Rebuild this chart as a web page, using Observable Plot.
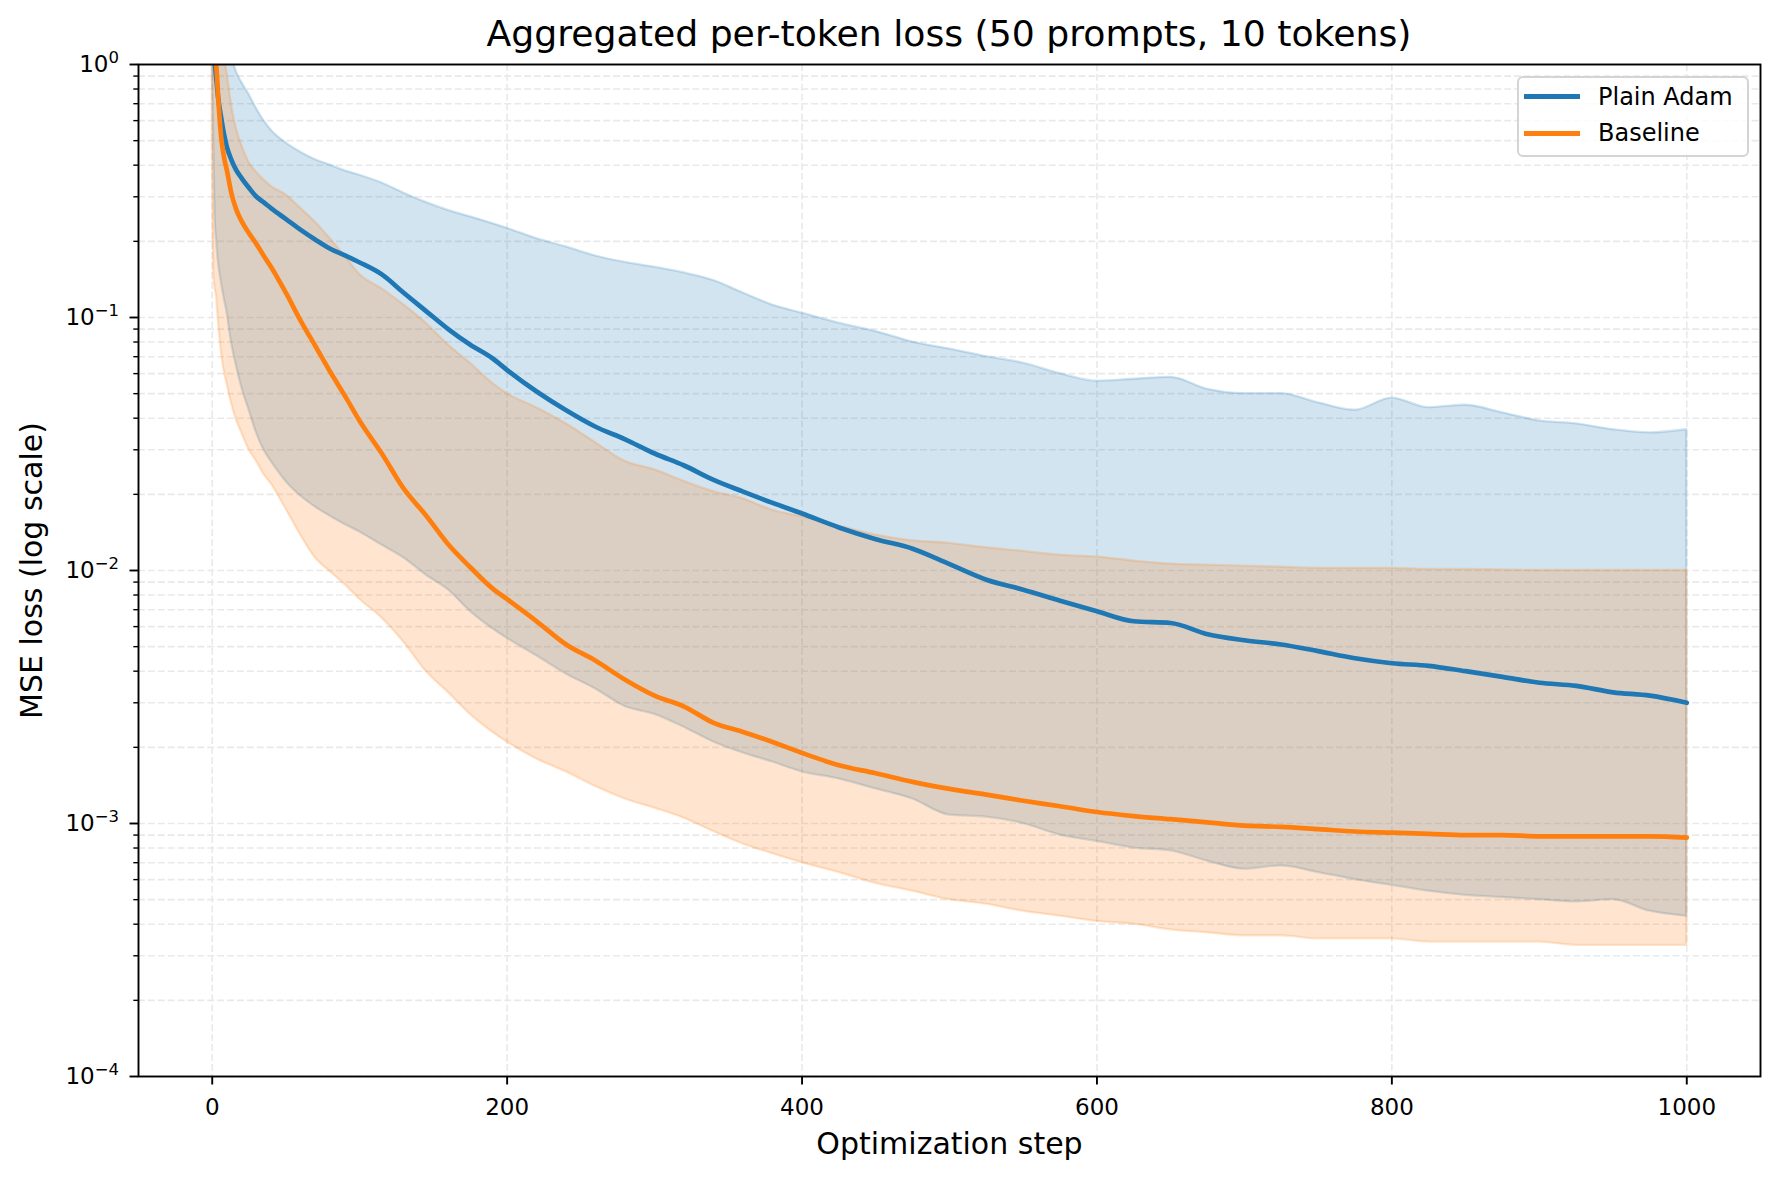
<!DOCTYPE html>
<html><head><meta charset="utf-8">
<script src="https://cdn.jsdelivr.net/npm/d3@7"></script>
<script src="https://cdn.jsdelivr.net/npm/@observablehq/plot@0.6"></script>
<style>
body{margin:0;background:#fff;font-family:"DejaVu Sans",sans-serif;}
#wrap{position:relative;width:1779px;height:1180px;overflow:hidden;background:#fff}
#title{position:absolute;left:138px;width:1622px;top:16px;text-align:center;font-size:36.2px;line-height:36px;color:#000;white-space:nowrap}
#legend{position:absolute;left:1517px;top:76px;width:228px;height:77px;border:2px solid #d4d4d4;border-radius:6px;background:rgba(255,255,255,0.8)}
.sw{position:absolute;left:5px;width:56px;height:5px}
.lt{position:absolute;left:79px;font-size:24px;line-height:24px;color:#000;white-space:nowrap}
</style></head>
<body>
<div id="wrap">
<div id="chart"></div>
<div id="title">Aggregated per-token loss (50 prompts, 10 tokens)</div>
<div id="legend">
  <div class="sw" style="top:16px;background:#1f77b4"></div><div class="lt" style="top:6.5px">Plain Adam</div>
  <div class="sw" style="top:52.5px;background:#ff7f0e"></div><div class="lt" style="top:43px">Baseline</div>
</div>
</div>
<script>
const steps = [0,1,2,3,4,6,8,10,13,16,
  20,25,30,35,40,50,60,70,80,90,
  100,115,130,145,160,175,190,200,220,240,
  260,280,300,320,340,360,380,400,425,450,
  475,500,525,550,575,600,625,650,675,700,
  725,750,775,800,825,850,875,900,925,950,
  975,1000];

const adamMean = [3.0,1.6,1.0,0.85,0.74,0.62,0.53,0.47,0.42,0.385,
  0.355,0.325,0.30,0.285,0.27,0.245,0.222,0.203,0.187,0.176,
  0.165,0.148,0.125,0.106,0.09,0.078,0.069,0.062,0.051,0.043,
  0.037,0.033,0.029,0.026,0.0228,0.0205,0.0185,0.0168,0.0148,0.0133,
  0.0122,0.0106,0.0092,0.0084,0.0076,0.0069,0.0063,0.0062,0.0056,0.0053,
  0.0051,0.0048,0.0045,0.0043,0.0042,0.0040,0.0038,0.0036,0.0035,0.0033,
  0.0032,0.0030];
const adamLow = [1.2,0.5,0.25,0.2,0.17,0.14,0.12,0.105,0.08,0.066,
  0.053,0.043,0.035,0.03,0.027,0.0225,0.0197,0.0178,0.0164,0.0152,
  0.0142,0.0126,0.0112,0.0096,0.0084,0.0069,0.0059,0.0054,0.0046,0.0039,
  0.0034,0.0029,0.0027,0.0024,0.0021,0.0019,0.00175,0.0016,0.0015,0.00137,
  0.00125,0.00108,0.00106,0.001,0.0009,0.00085,0.0008,0.00078,0.00071,0.00066,
  0.00068,0.00064,0.0006,0.00057,0.00054,0.00052,0.00051,0.0005,0.00049,0.0005,
  0.00045,0.00043];
const adamHigh = [5,4,3,2.6,2.2,1.8,1.5,1.3,1.1,0.95,
  0.85,0.76,0.67,0.6,0.55,0.49,0.45,0.42,0.40,0.38,
  0.365,0.34,0.31,0.285,0.265,0.25,0.235,0.225,0.205,0.19,
  0.175,0.165,0.158,0.15,0.14,0.125,0.112,0.104,0.095,0.088,
  0.08,0.075,0.07,0.066,0.06,0.056,0.057,0.058,0.052,0.05,
  0.05,0.046,0.043,0.048,0.044,0.045,0.042,0.039,0.038,0.036,
  0.035,0.036];

const baseMean = [3.0,1.5,1.1,0.95,0.75,0.52,0.43,0.38,0.31,0.27,
  0.24,0.215,0.195,0.175,0.158,0.125,0.097,0.077,0.061,0.049,
  0.039,0.029,0.021,0.0165,0.0127,0.0103,0.0085,0.0077,0.0063,0.0051,
  0.0044,0.0037,0.0032,0.0029,0.0025,0.0023,0.0021,0.0019,0.0017,0.00158,
  0.00146,0.00137,0.0013,0.00123,0.00117,0.00111,0.00107,0.00104,0.00101,0.00098,
  0.00097,0.00095,0.00093,0.00092,0.00091,0.0009,0.0009,0.00089,0.00089,0.00089,
  0.00089,0.00088];
const baseLow = [0.5,0.15,0.13,0.12,0.1,0.075,0.062,0.055,0.046,0.04,
  0.035,0.03,0.027,0.024,0.022,0.0175,0.0138,0.0112,0.0099,0.0088,
  0.0077,0.0065,0.0052,0.004,0.0033,0.0027,0.0023,0.0021,0.0018,0.0016,
  0.0014,0.00125,0.00115,0.00105,0.00093,0.00083,0.00076,0.0007,0.00064,0.00058,
  0.00054,0.0005,0.00048,0.00045,0.00043,0.00041,0.0004,0.00038,0.00037,0.00036,
  0.00036,0.00035,0.00035,0.00035,0.00034,0.00034,0.00034,0.00034,0.00033,0.00033,
  0.00033,0.00033];
const baseHigh = [5,3.5,2.5,2,1.7,1.3,1.1,0.93,0.7,0.57,
  0.48,0.41,0.375,0.35,0.33,0.305,0.27,0.238,0.205,0.175,
  0.148,0.13,0.112,0.095,0.078,0.066,0.055,0.05,0.044,0.038,
  0.032,0.027,0.025,0.0225,0.0205,0.0192,0.0173,0.0163,0.015,0.0138,
  0.0131,0.0128,0.0123,0.0119,0.0115,0.0113,0.0109,0.0106,0.0105,0.0104,
  0.0103,0.0102,0.0102,0.0102,0.0101,0.0101,0.01005,0.01,0.01,0.01,
  0.01,0.01];

const xTicks = [0,200,400,600,800,1000];
const yMajor = [1e-4,1e-3,1e-2,1e-1,1];
const yMinor = [];
for (const e of [-4,-3,-2,-1]) for (let m = 2; m <= 9; m++) yMinor.push(+(m * Math.pow(10, e)).toPrecision(3));

const rows = steps.map((s, i) => ({
  step: s,
  aM: adamMean[i], aL: adamLow[i], aH: adamHigh[i],
  bM: baseMean[i], bL: baseLow[i], bH: baseHigh[i]
}));

const gridStyle = {stroke: "#e9e9e9", strokeWidth: 1.6, strokeDasharray: "6.9,3"};
const blue = "#1f77b4", orange = "#ff7f0e";
const curve = "monotone-x";

const chart = Plot.plot({
  width: 1779, height: 1180,
  marginTop: 64, marginRight: 19, marginBottom: 104, marginLeft: 138,
  style: {fontFamily: '"DejaVu Sans", sans-serif', fontSize: "23px", color: "#000", background: "transparent", overflow: "visible"},
  x: {domain: [-50, 1050]},
  y: {type: "log", domain: [1e-4, 1]},
  marks: [
    Plot.ruleX(xTicks, {x: d => d, ...gridStyle}),
    Plot.ruleY([...yMajor, ...yMinor], {y: d => d, ...gridStyle}),
    Plot.areaY(rows, {x: "step", y1: "aL", y2: "aH", curve, fill: blue, fillOpacity: 0.2, stroke: blue, strokeOpacity: 0.2, strokeWidth: 2.3, clip: true}),
    Plot.areaY(rows, {x: "step", y1: "bL", y2: "bH", curve, fill: orange, fillOpacity: 0.2, stroke: orange, strokeOpacity: 0.2, strokeWidth: 2.3, clip: true}),
    Plot.lineY(rows, {x: "step", y: "aM", curve, stroke: blue, strokeWidth: 4.7, clip: true}),
    Plot.lineY(rows, {x: "step", y: "bM", curve, stroke: orange, strokeWidth: 4.7, clip: true}),
    Plot.axisX(xTicks, {tickSize: 8.5, tickPadding: 14, strokeWidth: 1.9, fontSize: 23, label: null, tickFormat: d => String(d)}),
    Plot.axisY(yMajor, {tickSize: 8.5, tickPadding: 11, strokeWidth: 1.9, fontSize: 23, label: null, tickFormat: d => "10^" + Math.round(Math.log10(d))}),
    Plot.axisY(yMinor, {tickSize: 4.7, strokeWidth: 1.4, text: null, label: null}),
    Plot.text(["Optimization step"], {text: d => d, frameAnchor: "bottom", dy: 68, fontSize: 30, lineAnchor: "middle", textAnchor: "middle"}),
    Plot.text(["MSE loss (log scale)"], {text: d => d, frameAnchor: "left", dx: -106, rotate: -90, fontSize: 30, lineAnchor: "middle", textAnchor: "middle"}),
    Plot.frame({stroke: "#000", strokeWidth: 1.9})
  ]
});

// superscript exponents on the y tick labels
chart.querySelectorAll("text").forEach(t => {
  const m = t.textContent.match(/^10\^(-?\d+)$/);
  if (!m) return;
  const exp = +m[1];
  t.textContent = "";
  const ns = "http://www.w3.org/2000/svg";
  const a = document.createElementNS(ns, "tspan");
  a.textContent = "10";
  const b = document.createElementNS(ns, "tspan");
  b.textContent = exp < 0 ? "\u2212" + Math.abs(exp) : String(exp);
  b.setAttribute("font-size", "16.5px");
  b.setAttribute("dy", "-8.7");
  t.appendChild(a); t.appendChild(b);
});

document.getElementById("chart").appendChild(chart);
</script>
</body></html>
